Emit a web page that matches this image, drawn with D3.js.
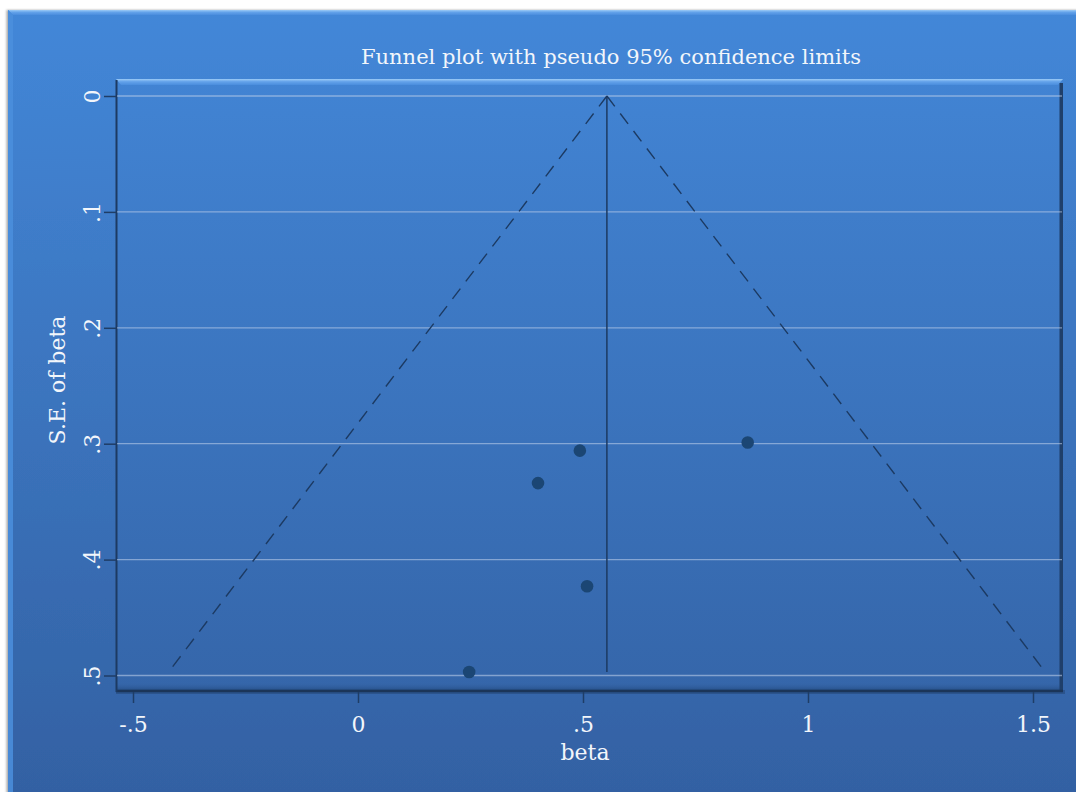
<!DOCTYPE html>
<html>
<head>
<meta charset="utf-8">
<script src="https://cdn.jsdelivr.net/npm/d3@7"></script>
<style>
  html, body { margin: 0; padding: 0; background: #ffffff; }
  svg { display: block; }
  text { font-family: "DejaVu Serif", "Liberation Serif", serif; fill: #f2f6fb; }
</style>
</head>
<body>
<svg id="chart" width="1076" height="792"></svg>
<script>
// Study estimates and their standard errors
const beta = [0.493, 0.400, 0.866, 0.509, 0.247];
const seBeta = [0.306, 0.334, 0.299, 0.423, 0.497];
// Axis ticks
const xTicks = [-0.5, 0, 0.5, 1, 1.5];
const yTicks = [0, 0.1, 0.2, 0.3, 0.4, 0.5];
const titleText = "Funnel plot with pseudo 95% confidence limits";
const xLabel = "beta";
const yLabel = "S.E. of beta";

const W = 1076, H = 792;
const plot = { left: 116, top: 79, right: 1063, bottom: 692 };

const svg = d3.select("#chart");
const defs = svg.append("defs");

// Background gradient shared by the outer panel and the plot region
const bg = defs.append("linearGradient").attr("id", "bgGrad")
  .attr("gradientUnits", "userSpaceOnUse")
  .attr("x1", 0).attr("y1", 10).attr("x2", 0).attr("y2", 792);
bg.append("stop").attr("offset", "0%").attr("stop-color", "#4387d8");
bg.append("stop").attr("offset", "100%").attr("stop-color", "#3361a3");

const topBevel = defs.append("linearGradient").attr("id", "topBevel")
  .attr("x1", 0).attr("y1", 0).attr("x2", 0).attr("y2", 1);
topBevel.append("stop").attr("offset", "0%").attr("stop-color", "#9ccbf6");
topBevel.append("stop").attr("offset", "45%").attr("stop-color", "#63a2ea");
topBevel.append("stop").attr("offset", "100%").attr("stop-color", "#4a8ddd");

const bottomBevel = defs.append("linearGradient").attr("id", "bottomBevel")
  .attr("x1", 0).attr("y1", 0).attr("x2", 0).attr("y2", 1);
bottomBevel.append("stop").attr("offset", "0%").attr("stop-color", "#3362a3").attr("stop-opacity", 0);
bottomBevel.append("stop").attr("offset", "70%").attr("stop-color", "#2a5590");
bottomBevel.append("stop").attr("offset", "100%").attr("stop-color", "#1c3a63");

const shadow = defs.append("filter").attr("id", "shadow")
  .attr("x", "-5%").attr("y", "-5%").attr("width", "110%").attr("height", "110%");
shadow.append("feDropShadow").attr("dx", -1.5).attr("dy", 0).attr("stdDeviation", 1.2)
  .attr("flood-color", "#000").attr("flood-opacity", 0.35);

// Outer panel
svg.append("rect").attr("x", 8).attr("y", 10).attr("width", W).attr("height", H)
  .attr("fill", "url(#bgGrad)").attr("filter", "url(#shadow)");
svg.append("path")
  .attr("d", `M8,10 L${W},10 L${W},15 L13,15 Z`)
  .attr("fill", "url(#topBevel)");
svg.append("path")
  .attr("d", `M8,10 L13,15 L13,${H} L8,${H} Z`)
  .attr("fill", "#4b8fdd").attr("opacity", 0.85);

// Plot region
const pw = plot.right - plot.left, ph = plot.bottom - plot.top;
svg.append("rect").attr("x", plot.left).attr("y", plot.bottom - 2).attr("width", pw + 2).attr("height", 4)
  .attr("fill", "#1b3558").attr("opacity", 0.35);
svg.append("rect").attr("x", plot.left).attr("y", plot.top).attr("width", pw).attr("height", ph)
  .attr("fill", "url(#bgGrad)");
svg.append("path")
  .attr("d", `M${plot.left},${plot.top} L${plot.right},${plot.top} L${plot.right - 5},${plot.top + 6} L${plot.left + 5},${plot.top + 6} Z`)
  .attr("fill", "url(#topBevel)");
svg.append("rect").attr("x", plot.left).attr("y", plot.bottom - 9).attr("width", pw).attr("height", 9)
  .attr("fill", "url(#bottomBevel)");
svg.append("rect").attr("x", plot.right - 3.5).attr("y", plot.top + 4).attr("width", 3.5).attr("height", ph - 4)
  .attr("fill", "#1f3f6a");
svg.append("line").attr("x1", plot.left).attr("x2", plot.right).attr("y1", plot.bottom - 1).attr("y2", plot.bottom - 1)
  .attr("stroke", "#1b3558").attr("stroke-width", 2.5);
svg.append("line").attr("x1", plot.left + 0.5).attr("x2", plot.left + 0.5).attr("y1", plot.top + 1).attr("y2", plot.bottom)
  .attr("stroke", "#1d3a62").attr("stroke-width", 2);

// Scales
const x = d3.scaleLinear().domain([-0.5, 1.5]).range([133, 1033]);
const y = d3.scaleLinear().domain([0, 0.5]).range([96, 675.5]);

const fmt = v => {
  if (v === 0) return "0";
  const s = String(v);
  return s.replace(/^(-?)0\./, "$1.");
};

// Horizontal grid lines
svg.append("g").selectAll("line").data(yTicks).join("line")
  .attr("x1", plot.left + 1).attr("x2", plot.right - 1)
  .attr("y1", d => y(d)).attr("y2", d => y(d))
  .attr("stroke", "#c4d6ec").attr("stroke-opacity", 0.55).attr("stroke-width", 1.3);

// Y axis
const yAxis = svg.append("g").attr("transform", `translate(${plot.left},0)`)
  .call(d3.axisLeft(y).tickValues(yTicks).tickFormat(fmt).tickSize(12).tickPadding(0));
yAxis.select(".domain").remove();
yAxis.selectAll(".tick line").attr("stroke", "#1f3d66").attr("stroke-width", 1.5);
yAxis.selectAll(".tick text")
  .attr("transform", "rotate(-90)")
  .attr("x", 0).attr("y", -16).attr("dy", 0)
  .attr("text-anchor", "middle")
  .style("font-size", "22px").style("font-family", null).attr("fill", "#f2f6fb");

// X axis
const xAxis = svg.append("g").attr("transform", `translate(0,${plot.bottom})`)
  .call(d3.axisBottom(x).tickValues(xTicks).tickFormat(fmt).tickSize(11).tickPadding(0));
xAxis.select(".domain").remove();
xAxis.selectAll(".tick line").attr("stroke", "#1f3d66").attr("stroke-width", 1.5);
xAxis.selectAll(".tick text")
  .attr("y", 40).attr("dy", 0)
  .style("font-size", "22px").style("font-family", null).attr("fill", "#f2f6fb");

// Pooled (inverse-variance) estimate and funnel limits
const w = seBeta.map(s => 1 / (s * s));
const pooled = d3.sum(beta.map((b, i) => b * w[i])) / d3.sum(w);
const seMax = d3.max(seBeta);

const g = svg.append("g");
g.append("line")
  .attr("x1", x(pooled)).attr("x2", x(pooled))
  .attr("y1", y(0)).attr("y2", y(seMax))
  .attr("stroke", "#1c3a62").attr("stroke-width", 1.5);

[-1, 1].forEach(sign => {
  g.append("line")
    .attr("x1", x(pooled)).attr("y1", y(0))
    .attr("x2", x(pooled + sign * 1.96 * seMax)).attr("y2", y(seMax))
    .attr("stroke", "#1c3a62").attr("stroke-width", 1.4)
    .attr("stroke-dasharray", "13,9");
});

// Study points
g.selectAll("circle").data(beta).join("circle")
  .attr("cx", d => x(d))
  .attr("cy", (d, i) => y(seBeta[i]))
  .attr("r", 6.3)
  .attr("fill", "#1b4674");

// Titles
svg.append("text").attr("x", 611).attr("y", 64).attr("text-anchor", "middle")
  .style("font-size", "21px").text(titleText);
svg.append("text").attr("x", 585).attr("y", 760).attr("text-anchor", "middle")
  .style("font-size", "22px").text(xLabel);
svg.append("text").attr("transform", "translate(65,380) rotate(-90)").attr("text-anchor", "middle")
  .style("font-size", "22px").text(yLabel);
</script>
</body>
</html>
